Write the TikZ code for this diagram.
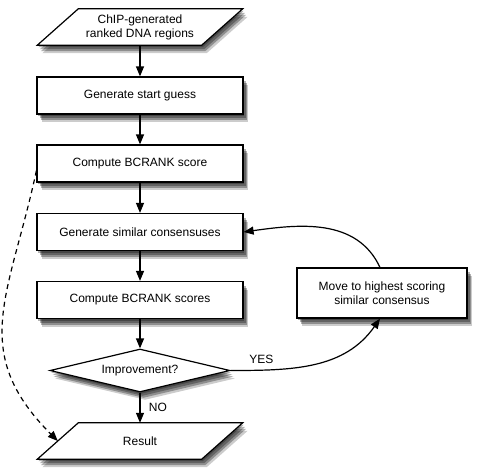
\documentclass[tikz,border=0pt]{standalone}
\usepackage{fontspec}
\setmainfont{Liberation Sans}
\usetikzlibrary{shapes.geometric,arrows.meta,shadows,backgrounds}

\tikzset{
  softshadow/.style={drop shadow={shadow xshift=1pt,shadow yshift=-2pt,opacity=.3,fill=black},
                     drop shadow={shadow xshift=2.5pt,shadow yshift=-4pt,opacity=.3,fill=black},
                     drop shadow={shadow xshift=3.5pt,shadow yshift=-6pt,opacity=.3,fill=black},
                     drop shadow={shadow xshift=5pt,shadow yshift=-8pt,opacity=.2,fill=black}},
  stepbox/.style={draw, line width=1.2pt, fill=white, minimum width=206pt, minimum height=37pt, softshadow},
  iobox/.style={minimum width=164pt, minimum height=36pt, inner sep=1pt, align=center},
  iopath/.style={draw, line width=1.2pt, fill=white, softshadow},
  testbox/.style={diamond, aspect=4.2, draw, line width=1.2pt, fill=white, minimum width=180pt,
                  minimum height=43pt, inner sep=1pt, softshadow},
  flow/.style={line width=1.2pt, -{Triangle[length=10pt,width=8pt]}}
}

% parallelogram behind an io node
\newcommand{\slantbox}[1]{%
  \begin{pgfonlayer}{background}
    \draw[iopath] ([xshift=20.5pt]#1.north west) -- ([xshift=20.5pt]#1.north east)
      -- ([xshift=-20.5pt]#1.south east) -- ([xshift=-20.5pt]#1.south west) -- cycle;
  \end{pgfonlayer}}

\begin{document}
\begin{tikzpicture}[x=1pt, y=1pt, font=\fontsize{12}{14}\selectfont]
      \useasboundingbox (0, 0) rectangle (480, -472);

      % main column
      \node[iobox] (input) at (140, -27) {ChIP-generated\\ranked DNA regions};
      \slantbox{input}
      \node[stepbox] (guess) at (140, -95.5) {Generate start guess};
      \node[stepbox] (score) at (140, -163.5) {Compute BCRANK score};
      \node[stepbox] (similar) at (140, -232) {Generate similar consensuses};
      \node[stepbox] (scores) at (140, -300) {Compute BCRANK scores};
      \node[testbox] (improve) at (140, -370.5) {Improvement?};
      \node[iobox] (result) at (140, -441) {Result};
      \slantbox{result}

      % side step
      \node[stepbox, minimum width=170pt, minimum height=50pt, align=center] (move) at (382, -293)
            {Move to highest scoring\\similar consensus};

      \draw[flow] (input) -- (guess);
      \draw[flow] (guess) -- (score);
      \draw[flow] (score) -- (similar);
      \draw[flow] (similar) -- (scores);
      \draw[flow] (scores) -- (improve);
      \draw[flow] (improve) -- node[right=5pt] {NO} (result);

      \draw[flow] (improve.east) to[out=0, in=-125] node[pos=0.17, above=3pt] {YES} ([xshift=-2pt]move.south);
      \draw[flow] ([xshift=-2pt]move.north) to[out=115, in=8] (similar.east);

      \draw[flow, dash pattern=on 5pt off 4pt] ([yshift=12pt]score.south west)
            to[out=-102, in=135, looseness=1.2] (result.west);
\end{tikzpicture}
\end{document}
